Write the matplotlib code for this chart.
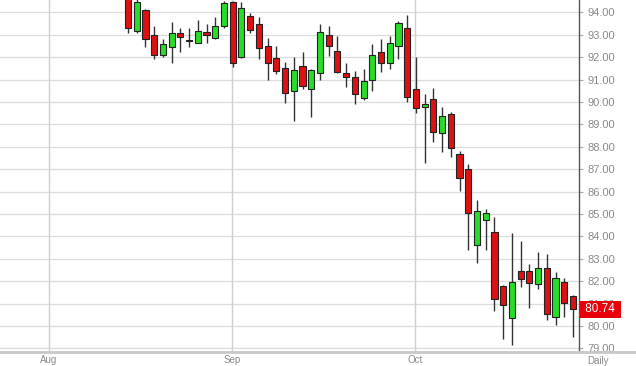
import matplotlib
matplotlib.use('Agg')
import matplotlib.pyplot as plt
import matplotlib.transforms as mtransforms
from matplotlib.lines import Line2D

plt.rcParams['font.family'] = ['Liberation Sans', 'DejaVu Sans']

# daily candles (index 0 = first visible bar)
opens = [94.90, 93.15, 94.10, 92.99, 92.08, 92.47, 93.09, 92.74, 92.62, 93.12,
         92.87, 93.39, 94.45, 92.02, 93.85, 93.48, 92.51, 91.95, 91.50, 90.49,
         91.61, 90.57, 91.29, 92.99, 92.29, 91.31, 91.13, 90.17, 90.98, 92.22,
         91.73, 92.50, 93.32, 90.58, 89.79, 90.12, 88.63, 89.46, 87.67, 87.00,
         83.62, 84.73, 84.18, 81.79, 80.37, 82.47, 82.47, 81.86, 82.60, 80.42,
         81.98, 81.33]
highs = [95.20, 94.60, 94.15, 93.40, 92.80, 93.57, 93.29, 93.29, 93.66, 93.48,
         93.78, 94.50, 94.50, 94.45, 93.99, 93.81, 92.84, 92.50, 91.80, 92.00,
         92.22, 91.47, 93.48, 93.39, 92.95, 91.73, 91.38, 91.46, 92.58, 92.80,
         92.95, 93.63, 93.88, 92.02, 90.34, 90.61, 89.76, 89.57, 87.83, 87.23,
         85.63, 85.21, 84.85, 81.83, 84.14, 83.79, 82.77, 83.32, 83.21, 82.43,
         82.14, 81.38]
lows = [93.10, 93.10, 92.45, 91.90, 92.00, 91.73, 92.25, 92.44, 92.62, 92.62,
        92.81, 93.32, 91.58, 91.95, 93.07, 91.90, 90.98, 91.25, 89.94, 89.17,
        90.57, 89.32, 90.98, 92.05, 91.28, 90.66, 89.91, 90.09, 90.49, 91.35,
        91.46, 91.90, 90.01, 89.52, 87.26, 88.23, 87.78, 87.56, 86.04, 83.39,
        82.83, 83.40, 80.68, 79.41, 79.15, 81.75, 80.79, 81.64, 80.27, 80.04,
        80.42, 79.50]
closes = [93.30, 94.45, 92.80, 92.10, 92.59, 93.09, 92.92, 92.74, 93.17, 93.00,
          93.41, 94.41, 91.73, 94.18, 93.21, 92.40, 91.73, 91.40, 90.39, 91.43,
          90.71, 91.43, 93.11, 92.50, 91.35, 91.10, 90.34, 90.94, 92.10, 91.75,
          92.62, 93.51, 90.24, 89.72, 89.90, 88.65, 89.38, 87.96, 86.59, 85.03,
          85.13, 85.03, 81.19, 80.94, 81.98, 82.08, 81.90, 82.58, 80.52, 82.13,
          81.01, 80.74]

month_labels = ['Aug', 'Sep', 'Oct']
month_pos = [-9.05, 11.9, 32.9]
price_ticks = list(range(79, 95))
last_price = 80.74

fig = plt.figure(figsize=(6.36, 3.66), dpi=100)
ax = fig.add_axes([0, 14 / 366, 579 / 636, 352 / 366])

ax.set_xlim(-14.67, 51.69)
ax.set_ylim(78.84, 94.554)

# grid
for p in price_ticks:
    ax.axhline(p, color='#dcdcdc', lw=0.9, zorder=0)
for m in month_pos:
    ax.axvline(m, color='#d0d0d0', lw=1.0, zorder=0)

# candles
for i in range(len(opens)):
    o, h, l, c = opens[i], highs[i], lows[i], closes[i]
    ax.vlines(i, l, h, color='#333333', lw=1.0, zorder=2)
    if c > o:
        col = '#28dd28'
    elif c < o:
        col = '#dd1111'
    else:
        col = '#333333'
    bottom = min(o, c)
    height = max(abs(c - o), 0.02)
    ax.bar(i, height, bottom=bottom, width=0.7, color=col,
           edgecolor='#222222', linewidth=0.8, zorder=3)

# axes styling
for s in ['left', 'top', 'bottom']:
    ax.spines[s].set_visible(False)
ax.spines['right'].set_color('#555555')
ax.spines['right'].set_linewidth(1.0)

ax.yaxis.tick_right()
ax.set_yticks(price_ticks)
ax.set_yticklabels(['%.2f' % p for p in price_ticks])
ax.tick_params(axis='y', length=3, color='#aaaaaa', labelcolor='#8a8a8a',
               labelsize=8, pad=3)

ax.set_xticks(month_pos)
ax.set_xticklabels(month_labels)
ax.tick_params(axis='x', length=0, labelcolor='#8a8a8a', labelsize=7, pad=2)

# bottom separator line
fig.add_artist(Line2D([0, 1], [14 / 366, 14 / 366], color='#c8c8c8', lw=2,
                      transform=fig.transFigure))
fig.text(598 / 636, 1 - 361 / 366, 'Daily', color='#8a8a8a', fontsize=7,
         ha='center', va='center')

# last price tag
trans = mtransforms.blended_transform_factory(ax.transAxes, ax.transData)
ax.text(1.006, last_price, ' %.2f ' % last_price, transform=trans, color='white',
        fontsize=8.5, ha='left', va='center', clip_on=False, zorder=10,
        bbox=dict(boxstyle='square,pad=0.2', fc='#e8000b', ec='none'))

fig.savefig('out.png', dpi=100)
